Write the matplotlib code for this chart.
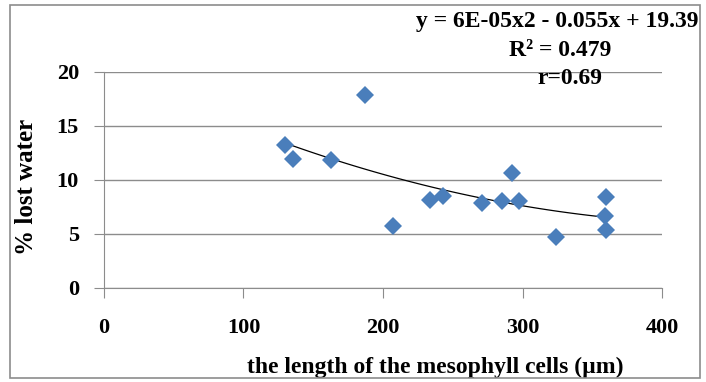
import numpy as np
import matplotlib.pyplot as plt
from matplotlib.patches import Rectangle

plt.rcParams['font.family'] = ['Liberation Serif', 'DejaVu Serif']
plt.rcParams['font.weight'] = 'bold'

# cell length (um) vs % lost water
length = [130, 135.6, 162.4, 187, 207.3, 233.5, 243, 271, 285.6, 292.5, 297.5, 323.8, 360, 359, 360]
lost_water = [13.2, 11.9, 11.8, 17.8, 5.7, 8.1, 8.5, 7.8, 8.0, 10.6, 8.0, 4.7, 8.4, 6.6, 5.3]

xticks = [0, 100, 200, 300, 400]
yticks = [0, 5, 10, 15, 20]

fig = plt.figure(figsize=(7.06, 3.82), dpi=100)
ax = fig.add_axes([0.1473, 0.2469, 0.7904, 0.5654])

# outer chart border
fig.patches.append(Rectangle((10 / 706, 4 / 382), 690 / 706, 373 / 382, transform=fig.transFigure,
                             fill=False, edgecolor='#8c8c8c', linewidth=1.2))

ax.grid(axis='y', color='#8c8c8c', linewidth=1)
ax.set_axisbelow(True)

# polynomial trendline (order 2), fitted like excel does
coef = np.polyfit(length, lost_water, 2)
xs = np.linspace(min(length), max(length), 100)
ax.plot(xs, np.polyval(coef, xs), color='black', linewidth=0.9, zorder=2)

ax.plot(length, lost_water, 'D', color='#4a7ebb', markersize=9.5, markeredgewidth=0, zorder=3)

ax.set_xlim(0, 400)
ax.set_ylim(0, 20)
ax.set_xticks(xticks)
ax.set_yticks(yticks)
ax.tick_params(axis='both', direction='out', length=7, color='#8c8c8c', labelsize=16)
ax.tick_params(axis='y', pad=11)
ax.tick_params(axis='x', pad=15)
for s in ['top', 'right']:
    ax.spines[s].set_visible(False)
for s in ['left', 'bottom']:
    ax.spines[s].set_color('#8c8c8c')

ax.set_ylabel('% lost water', fontsize=18, fontweight='bold')
ax.yaxis.set_label_coords(-0.118, 0.466)
ax.set_xlabel('the length of the mesophyll cells (\u00b5m)', fontsize=17, fontweight='bold')
ax.xaxis.set_label_coords(0.593, -0.32)

fig.text(557 / 706, 1 - 22 / 382, 'y = 6E-05x2 - 0.055x + 19.39', ha='center', va='center', fontsize=17)
fig.text(560 / 706, 1 - 50 / 382, 'R\u00b2 = 0.479', ha='center', va='center', fontsize=17)
fig.text(570 / 706, 1 - 78 / 382, 'r=0.69', ha='center', va='center', fontsize=17)

fig.savefig('out.png', dpi=100)
